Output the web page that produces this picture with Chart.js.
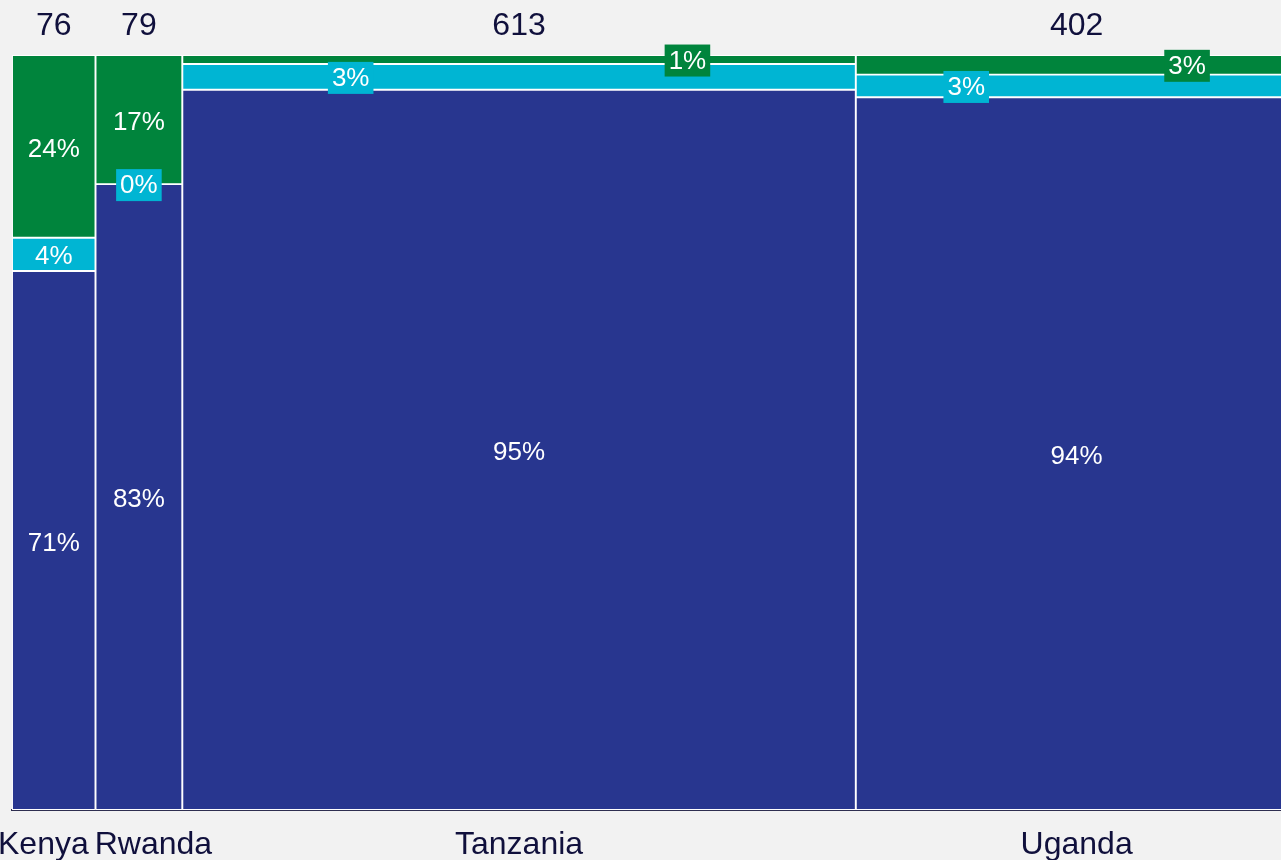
<!DOCTYPE html>
<html>
<head>
<meta charset="utf-8">
<script src="https://cdn.jsdelivr.net/npm/chart.js@4.4.1/dist/chart.umd.min.js"></script>
<style>
  html, body { margin: 0; padding: 0; background: #f2f2f2; overflow: hidden; }
  canvas { display: block; }
</style>
</head>
<body>
<canvas id="c" width="1281" height="860"></canvas>
<script>
// ---- data ----
const countries = ['Kenya', 'Rwanda', 'Tanzania', 'Uganda'];
const totals = [76, 79, 613, 402];
const shareNavy = [71.4, 82.9, 95.4, 94.4];
const shareCyan = [4.4, 0, 3.4, 3.0];
const shareGreen = [24.2, 17.1, 1.2, 2.6];

// ---- styles ----
const seriesValues = [shareNavy, shareCyan, shareGreen];
const seriesColors = ['#28368f', '#00b5d3', '#00843c'];
const textColor = '#10103c';
const fontFamily = "'Liberation Sans', Arial, sans-serif";

const datasets = [];
let start = 0;
countries.forEach((country, i) => {
  const center = start + totals[i] / 2;
  let cum = 0;
  seriesValues.forEach((vals, s) => {
    const v = vals[i];
    datasets.push({
      label: country + ' ' + s,
      data: [{ x: center, y: [cum, cum + v] }],
      backgroundColor: seriesColors[s],
      borderColor: '#ffffff',
      borderWidth: 1.3,
      borderSkipped: false,
      grouped: false,
      _col: i, _from: start, _to: start + totals[i], _value: v, _series: s
    });
    cum += v;
  });
  start += totals[i];
});

const labelPlugin = {
  id: 'mekkoLabels',
  afterDraw(chart) {
    const ctx = chart.ctx;
    const area = chart.chartArea;
    const xs = chart.scales.x;
    ctx.save();
    // percentage labels
    const cols = {};
    chart.data.datasets.forEach((ds, di) => {
      const el = chart.getDatasetMeta(di).data[0];
      const top = Math.min(el.y, el.base), bottom = Math.max(el.y, el.base);
      const h = bottom - top;
      (cols[ds._col] = cols[ds._col] || []).push({ ds, el, top, bottom, h, small: h < 30 });
    });
    ctx.font = '26px ' + fontFamily;
    ctx.textAlign = 'center';
    ctx.textBaseline = 'middle';
    Object.values(cols).forEach(list => {
      const smalls = list.filter(o => o.small);
      list.forEach(o => {
        const text = Math.round(o.ds._value) + '%';
        const left = o.el.x - o.el.width / 2;
        let lx = o.el.x;
        if (o.small && smalls.length > 1) {
          const k = smalls.indexOf(o);
          lx = left + o.el.width * (k + 0.5) / smalls.length;
        }
        const ly = (o.top + o.bottom) / 2;
        if (o.small) {
          const w = ctx.measureText(text).width + 8;
          ctx.fillStyle = o.ds.backgroundColor;
          ctx.fillRect(lx - w / 2, ly - 15, w, 32);
          ctx.fillStyle = '#ffffff';
          ctx.fillText(text, lx, ly + 2);
        } else {
          ctx.fillStyle = '#ffffff';
          ctx.fillText(text, lx, ly + 3);
        }
      });
    });
    // totals on top and country names below
    ctx.font = '32px ' + fontFamily;
    ctx.fillStyle = textColor;
    ctx.textBaseline = 'alphabetic';
    let s0 = 0;
    const names = [];
    countries.forEach((c, i) => {
      const cx = (xs.getPixelForValue(s0) + xs.getPixelForValue(s0 + totals[i])) / 2;
      ctx.fillText(String(totals[i]), cx, area.top - 20);
      names.push({ text: c, cx, w: ctx.measureText(c).width });
      s0 += totals[i];
    });
    const gap = 6;
    for (let i = 1; i < names.length; i++) {
      const a = names[i - 1], b = names[i];
      const overlap = (a.cx + a.w / 2 + gap) - (b.cx - b.w / 2);
      if (overlap > 0) {
        a.cx -= overlap / 2; b.cx += overlap / 2;
        if (a.cx - a.w / 2 < -2) {
          a.cx = -2 + a.w / 2;
          b.cx = a.cx + a.w / 2 + gap + b.w / 2;
        }
      }
    }
    names.forEach(n => ctx.fillText(n.text, n.cx, area.bottom + 44));
    ctx.restore();
  }
};

const chart = new Chart(document.getElementById('c'), {
  type: 'bar',
  data: { datasets },
  options: {
    responsive: false,
    animation: false,
    events: [],
    layout: { padding: { left: 12, top: 55, right: 0, bottom: 50 } },
    plugins: { legend: { display: false }, tooltip: { enabled: false } },
    scales: {
      x: {
        type: 'linear', min: 0, max: 1155, z: 1, offset: false,
        grid: { display: false, drawTicks: false, offset: false },
        ticks: { display: false },
        border: { display: true, color: '#2e2e50', width: 2 }
      },
      y: { min: 0, max: 100, display: false }
    }
  },
  plugins: [labelPlugin]
});

// bar widths follow the market size of each column on the linear x scale
const xs = chart.scales.x;
chart.data.datasets.forEach(ds => {
  ds.barThickness = xs.getPixelForValue(ds._to) - xs.getPixelForValue(ds._from);
});
chart.update('none');
</script>
</body>
</html>
